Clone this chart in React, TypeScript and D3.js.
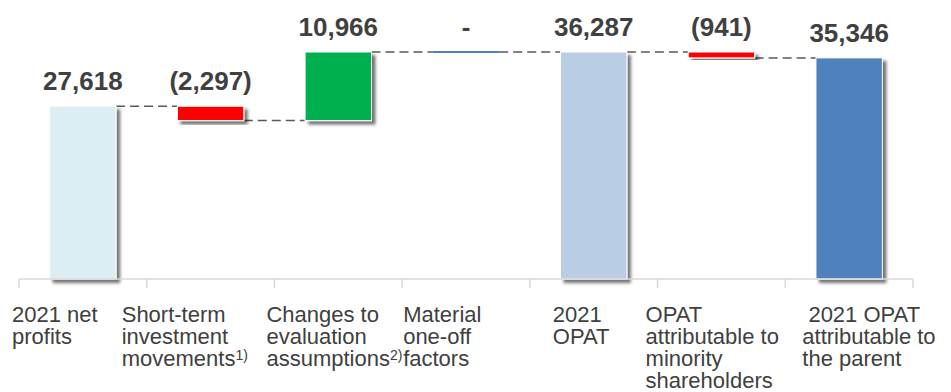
import React from "react";
import * as d3 from "d3";

// categories (lines of each multi-line axis label)
const categoryLines: string[][] = [
  ["2021 net", "profits"],
  ["Short-term", "investment", "movements"],
  ["Changes to", "evaluation", "assumptions"],
  ["Material", "one-off", "factors"],
  ["2021", "OPAT"],
  ["OPAT", "attributable to", "minority", "shareholders"],
  [" 2021 OPAT", "attributable to", "the parent"],
];
const footnotes = ["", "1)", "2)", "", "", "", ""];

// waterfall values
const kinds = ["total", "delta", "delta", "delta", "total", "delta", "total"];
const values = [27618, -2297, 10966, 0, 36287, -941, 35346];

const barColors = ["#DAEEF3", "#FF0000", "#00B050", "#4F81BD", "#B9CDE5", "#FF0000", "#4F81BD"];
// small manual nudges of the text boxes under the axis
const labelShift = [-7, -25, -8, 1, 23, -12, 17];

const W = 951;
const H = 392;
const axisY = 279;

const fmt = (v: number) => {
  if (v === 0) return "-";
  const s = d3.format(",")(Math.abs(v));
  return v < 0 ? `(${s})` : s;
};

export default function App() {
  const ids = categoryLines.map((_, i) => `c${i}`);
  const x = d3.scaleBand<string>().domain(ids).range([19, 913]).paddingInner(0.48).paddingOuter(0.24);
  const y = d3.scaleLinear().domain([0, 36287]).range([axisY, 52]);
  const step = x.step();

  // running totals
  let run = 0;
  const bars = values.map((v, i) => {
    let a: number, b: number;
    if (kinds[i] === "total") {
      a = 0;
      b = v;
      run = v;
    } else {
      a = run;
      b = run + v;
      run = b;
    }
    return { id: ids[i], a, b, end: run, v };
  });

  const grey = "#404040";

  return (
    <svg
      width={W}
      height={H}
      style={{ position: "absolute", left: 0, top: 0, background: "#fff" }}
      fontFamily="Arial, 'Liberation Sans', sans-serif"
    >
      <defs>
        <filter id="shadow" x="-20%" y="-20%" width="150%" height="150%">
          <feDropShadow dx="3.5" dy="3.5" stdDeviation="1.8" floodColor="#000" floodOpacity="0.55" />
        </filter>
      </defs>

      {/* connectors */}
      {bars.slice(0, -1).map((d, i) => {
        const x1 = x(d.id)! + x.bandwidth();
        const x2 = x(bars[i + 1].id)!;
        return (
          <line
            key={"c" + i}
            x1={x1}
            x2={x2}
            y1={y(d.end)}
            y2={y(d.end)}
            stroke="#595959"
            strokeWidth={1.5}
            strokeDasharray="9,5"
          />
        );
      })}

      {/* bars */}
      {bars.map((d, i) => {
        const x0 = x(d.id)!;
        if (d.v === 0) {
          return (
            <line
              key={"b" + i}
              x1={x0}
              x2={x0 + x.bandwidth()}
              y1={y(d.b)}
              y2={y(d.b)}
              stroke={barColors[i]}
              strokeWidth={2}
            />
          );
        }
        const top = Math.min(y(d.a), y(d.b));
        const h = Math.abs(y(d.a) - y(d.b));
        return (
          <rect
            key={"b" + i}
            x={x0}
            y={top}
            width={x.bandwidth()}
            height={h}
            fill={barColors[i]}
            stroke="#fff"
            strokeWidth={1}
            filter="url(#shadow)"
          />
        );
      })}

      {/* value labels */}
      {bars.map((d, i) => {
        const top = Math.min(y(d.a), y(d.b));
        return (
          <text
            key={"v" + i}
            x={x(d.id)! + x.bandwidth() / 2}
            y={top - 16}
            textAnchor="middle"
            fontSize={26}
            fontWeight="bold"
            fill={grey}
          >
            {fmt(d.v)}
          </text>
        );
      })}

      {/* axis */}
      <line x1={19} x2={913} y1={axisY} y2={axisY} stroke="#D9D9D9" strokeWidth={1.5} />
      {d3.range(ids.length + 1).map((i) => {
        const tx = 19 + i * step;
        return <line key={"t" + i} x1={tx} x2={tx} y1={axisY} y2={axisY + 9} stroke="#D9D9D9" strokeWidth={1.5} />;
      })}

      {/* category labels */}
      {categoryLines.map((lines, i) => {
        const lx = 19 + i * step + labelShift[i];
        return (
          <text key={"l" + i} fontSize={22} fill={grey} style={{ whiteSpace: "pre" }}>
            {lines.map((ln, j) => (
              <tspan key={j} x={lx} y={322 + j * 22}>
                {ln}
                {j === lines.length - 1 && footnotes[i] ? (
                  <tspan fontSize={14} dy={-6}>
                    {footnotes[i]}
                  </tspan>
                ) : null}
              </tspan>
            ))}
          </text>
        );
      })}
    </svg>
  );
}
